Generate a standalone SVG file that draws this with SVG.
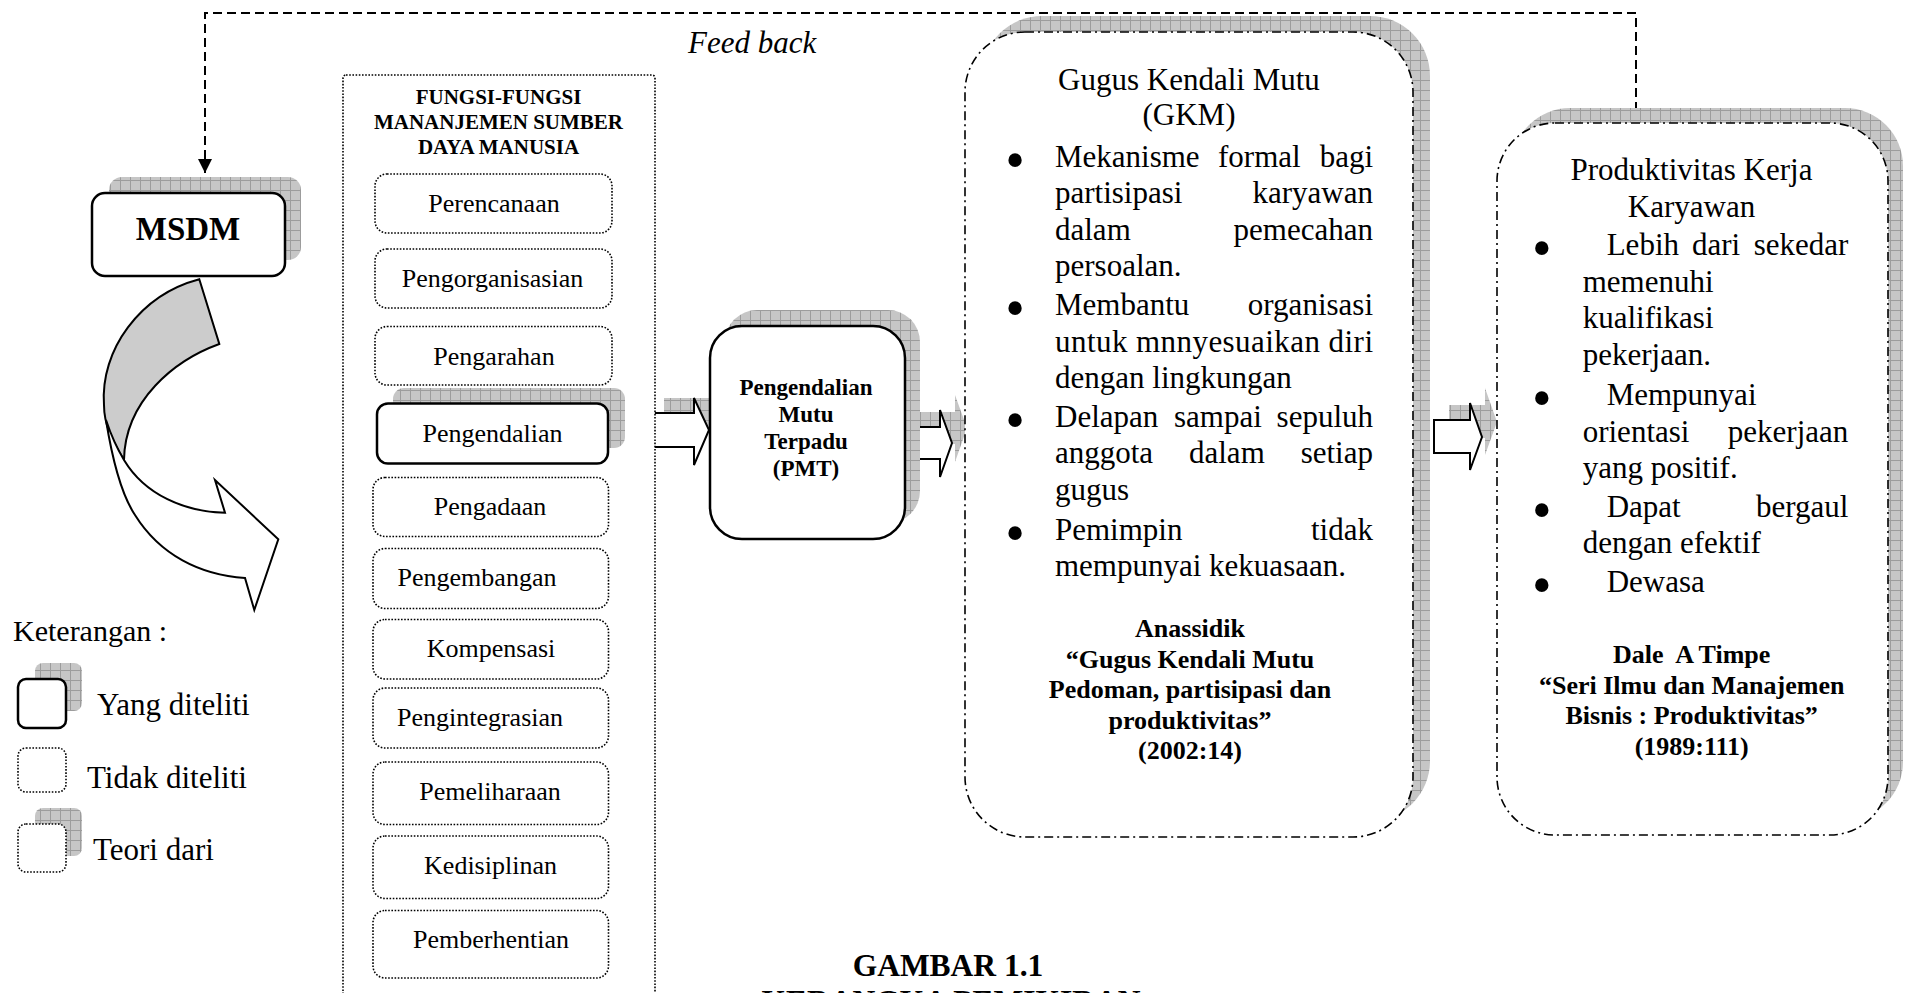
<svg xmlns="http://www.w3.org/2000/svg" width="1910" height="993" viewBox="0 0 1910 993">
<defs>
<pattern id="grid" width="10" height="10" patternUnits="userSpaceOnUse">
<rect width="10" height="10" fill="#c6c6c6"/>
<path d="M0 0.5H10M0.5 0V10" stroke="#9c9c9c" stroke-width="1"/>
</pattern>
<marker id="ah" markerWidth="14" markerHeight="16" refX="14" refY="8" orient="auto" markerUnits="userSpaceOnUse">
<path d="M0,1 L14,8 L0,15 Z" fill="#000"/>
</marker>
</defs>
<style>
.t{font-family:"Liberation Serif","Times New Roman",serif;fill:#000}
.b{font-weight:bold}
.c{text-anchor:middle}
.e{text-anchor:end}
.f31{font-size:31px}
.f26{font-size:26px}
.dot{fill:#fff;stroke:#000;stroke-width:1.6;stroke-dasharray:1.6 1.6}
.solid{fill:#fff;stroke:#000;stroke-width:2.5}
.dd{fill:#fff;stroke:#000;stroke-width:1.6;stroke-dasharray:9 4 2 4}
.sh{fill:url(#grid)}
.arr{fill:#fff;stroke:#000;stroke-width:2;stroke-linejoin:miter}
.bul{font-family:"Liberation Serif","Times New Roman",serif;font-size:56px;text-anchor:middle}
</style>
<rect width="1910" height="993" fill="#fff"/>

<g id="connectors">
<path d="M1636,125 V13 H205 V173" fill="none" stroke="#000" stroke-width="2" stroke-dasharray="9 5" marker-end="url(#ah)"/>
<text class="t f31" x="688" y="53" font-style="italic">Feed back</text>
<g id="curved-arrow" stroke="#000" stroke-width="2" stroke-linejoin="miter">
<path d="M199.3,279.3 L219.3,344 C175,360 125,400 124,460 C112,440 104,425 104,405 C100,350 140,295 199.3,279.3 Z" fill="#cccccc"/>
<path d="M106,420 C114,470 125,500 135,515 C160,555 200,575 245,578 L254.3,610 L278.3,539.3 L215,480 L225,512.7 C185,512 145,495 124,460 C115,445 110,432 106,420 Z" fill="#fff"/>
</g>
<g id="arrow1">
<path class="sh" d="M664,398 H710 V383 L725,415 L710,450 V432 H664 Z"/>
<path class="arr" d="M648,413 H694 V398 L709,430 L694,465 V447 H648 Z"/>
</g>
<g id="arrow2">
<path class="sh" d="M920,412 H955 V395 L967,428 L955,462 V444 H920 Z"/>
<path class="arr" d="M905,427 H940 V410 L952,443 L940,477 V459 H905 Z"/>
</g>
<g id="arrow3">
<path class="sh" d="M1449,405 H1485 V388 L1497,422 L1485,455 V438 H1449 Z"/>
<path class="arr" d="M1434,420 H1470 V403 L1482,437 L1470,470 V453 H1434 Z"/>
</g>
</g>

<g id="msdm">
<rect class="sh" x="109" y="177" width="192" height="83" rx="13"/>
<rect class="solid" x="92" y="193" width="193" height="83" rx="13"/>
<text class="t b c" x="188" y="240" font-size="33">MSDM</text>
</g>

<g id="fungsi">
<rect class="dot" x="343" y="75" width="312" height="940" rx="3"/>
<text class="t b c" font-size="21"><tspan x="498.5" y="104">FUNGSI-FUNGSI</tspan><tspan x="498.5" y="129">MANANJEMEN SUMBER</tspan><tspan x="498.5" y="154">DAYA MANUSIA</tspan></text>
</g>
<g id="perencanaan"><rect class="dot" x="375" y="174" width="237" height="59" rx="12"/><text class="t f26 c" x="494" y="211.5">Perencanaan</text></g>
<g id="pengorganisasian"><rect class="dot" x="375" y="249" width="237" height="59" rx="12"/><text class="t f26 c" x="492.5" y="286.5">Pengorganisasian</text></g>
<g id="pengarahan"><rect class="dot" x="375" y="326.5" width="237" height="58.5" rx="12"/><text class="t f26 c" x="494" y="365">Pengarahan</text></g>
<g id="pengendalian">
<rect class="sh" x="393" y="388" width="232" height="60" rx="11"/>
<rect class="solid" x="377" y="403.5" width="231" height="60" rx="11"/>
<text class="t f26 c" x="492.5" y="441.5">Pengendalian</text>
</g>
<g id="pengadaan"><rect class="dot" x="373" y="477.5" width="235.5" height="59" rx="12"/><text class="t f26 c" x="490" y="515">Pengadaan</text></g>
<g id="pengembangan"><rect class="dot" x="373" y="548.5" width="235.5" height="60" rx="12"/><text class="t f26 c" x="477" y="586">Pengembangan</text></g>
<g id="kompensasi"><rect class="dot" x="373" y="619.5" width="235.5" height="59.5" rx="12"/><text class="t f26 c" x="491" y="657">Kompensasi</text></g>
<g id="pengintegrasian"><rect class="dot" x="373" y="688" width="235.5" height="60" rx="12"/><text class="t f26 c" x="480" y="726">Pengintegrasian</text></g>
<g id="pemeliharaan"><rect class="dot" x="373" y="762" width="235.5" height="62.5" rx="12"/><text class="t f26 c" x="490" y="799.5">Pemeliharaan</text></g>
<g id="kedisiplinan"><rect class="dot" x="373" y="836" width="235.5" height="62.5" rx="12"/><text class="t f26 c" x="490.5" y="874">Kedisiplinan</text></g>
<g id="pemberhentian"><rect class="dot" x="373" y="910.5" width="235.5" height="67.5" rx="12"/><text class="t f26 c" x="491" y="947.5">Pemberhentian</text></g>

<g id="pmt">
<rect class="sh" x="725" y="310" width="195" height="213" rx="32"/>
<rect class="solid" x="710" y="326" width="195" height="213" rx="32"/>
<text class="t b c" font-size="23"><tspan x="806" y="395">Pengendalian</tspan><tspan x="806" y="422">Mutu</tspan><tspan x="806" y="448.5">Terpadu</tspan><tspan x="806" y="476">(PMT)</tspan></text>
</g>

<g id="gkm">
<rect class="sh" x="982" y="16" width="448" height="805" rx="60"/>
<rect class="dd" x="965" y="32" width="448" height="805" rx="60"/>
<text class="t f31 c"><tspan x="1189" y="90">Gugus Kendali Mutu</tspan><tspan x="1189" y="125">(GKM)</tspan></text>
<text class="bul" x="1015" y="178.5">•</text>
<text class="bul" x="1015" y="327">•</text>
<text class="bul" x="1015" y="438.5">•</text>
<text class="bul" x="1015" y="551.5">•</text>
<g class="t f31">
<text x="1055" y="166.5">Mekanisme</text><text x="1218" y="166.5">formal</text><text class="e" x="1373" y="166.5">bagi</text>
<text x="1055" y="203">partisipasi</text><text class="e" x="1373" y="203">karyawan</text>
<text x="1055" y="239.5">dalam</text><text class="e" x="1373" y="239.5">pemecahan</text>
<text x="1055" y="276">persoalan.</text>
<text x="1055" y="315">Membantu</text><text class="e" x="1373" y="315">organisasi</text>
<text x="1055" y="351.5" textLength="318" lengthAdjust="spacing">untuk mnnyesuaikan diri</text>
<text x="1055" y="388">dengan lingkungan</text>
<text x="1055" y="426.5">Delapan</text><text x="1174" y="426.5">sampai</text><text class="e" x="1373" y="426.5">sepuluh</text>
<text x="1055" y="463">anggota</text><text x="1189" y="463">dalam</text><text class="e" x="1373" y="463">setiap</text>
<text x="1055" y="499.5">gugus</text>
<text x="1055" y="539.5">Pemimpin</text><text class="e" x="1373" y="539.5">tidak</text>
<text x="1055" y="576">mempunyai kekuasaan.</text>
</g>
<text class="t b c f26"><tspan x="1190" y="637">Anassidik</tspan><tspan x="1190" y="667.5">“Gugus Kendali Mutu</tspan><tspan x="1190" y="698">Pedoman, partisipasi dan</tspan><tspan x="1190" y="728.5">produktivitas”</tspan><tspan x="1190" y="759">(2002:14)</tspan></text>
</g>

<g id="produktivitas">
<rect class="sh" x="1512" y="108" width="391" height="712" rx="58"/>
<rect class="dd" x="1497" y="123" width="391" height="712" rx="58"/>
<text class="t f31 c"><tspan x="1691.5" y="179.5">Produktivitas Kerja</tspan><tspan x="1691.5" y="216.5">Karyawan</tspan></text>
<text class="bul" x="1541.7" y="267">•</text>
<text class="bul" x="1541.7" y="417">•</text>
<text class="bul" x="1541.7" y="528.5">•</text>
<text class="bul" x="1541.7" y="603.5">•</text>
<g class="t f31">
<text x="1606.7" y="255">Lebih</text><text x="1692" y="255">dari</text><text class="e" x="1848.3" y="255">sekedar</text>
<text x="1582.7" y="291.7">memenuhi</text>
<text x="1582.7" y="328.3">kualifikasi</text>
<text x="1582.7" y="365">pekerjaan.</text>
<text x="1606.7" y="405">Mempunyai</text>
<text x="1582.7" y="441.7">orientasi</text><text class="e" x="1848.3" y="441.7">pekerjaan</text>
<text x="1582.7" y="478.3">yang positif.</text>
<text x="1606.7" y="516.7">Dapat</text><text class="e" x="1848.3" y="516.7">bergaul</text>
<text x="1582.7" y="553.3">dengan efektif</text>
<text x="1606.7" y="591.7">Dewasa</text>
</g>
<text class="t b c f26" xml:space="preserve"><tspan x="1691.7" y="663">Dale  A Timpe</tspan><tspan x="1691.7" y="693.5">“Seri Ilmu dan Manajemen</tspan><tspan x="1691.7" y="724">Bisnis : Produktivitas”</tspan><tspan x="1691.7" y="754.5">(1989:111)</tspan></text>
</g>

<g id="legend">
<text class="t" x="13" y="641" font-size="30">Keterangan :</text>
<rect class="sh" x="35" y="663" width="47" height="48" rx="8"/>
<rect class="solid" x="18" y="679" width="48" height="49" rx="8"/>
<text class="t f31" x="97" y="715">Yang diteliti</text>
<rect class="dot" x="18" y="748" width="48" height="44" rx="8"/>
<text class="t f31" x="87" y="788">Tidak diteliti</text>
<rect class="sh" x="35" y="808" width="47" height="48" rx="8"/>
<rect class="dot" x="18" y="824" width="48" height="48" rx="8"/>
<text class="t f31" x="93" y="860">Teori dari</text>
</g>

<g id="caption">
<text class="t b c" font-size="31.5"><tspan x="948" y="976">GAMBAR 1.1</tspan><tspan x="951" y="1012">KERANGKA PEMIKIRAN</tspan></text>
</g>
</svg>
